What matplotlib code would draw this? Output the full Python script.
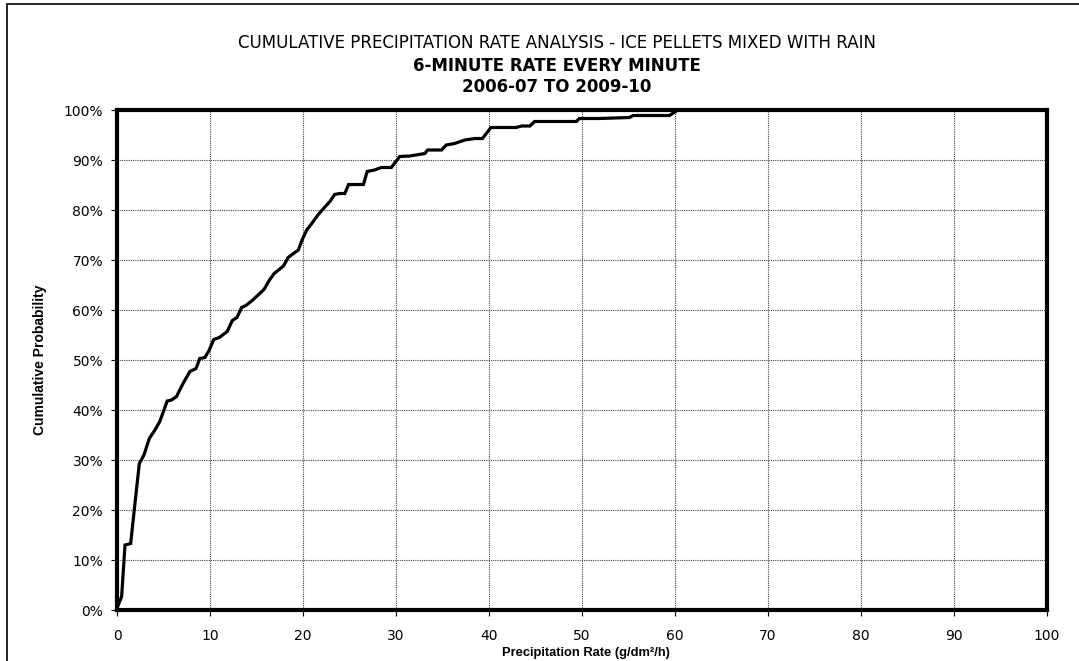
import matplotlib
matplotlib.use("Agg")
import matplotlib.pyplot as plt
from matplotlib.ticker import MultipleLocator, FuncFormatter
from matplotlib.patches import Rectangle

# ---- data ----
rate = [0, 0.5, 0.86, 1.47, 1.93, 2.4, 2.9, 3.47, 4.08, 4.6, 5.4, 5.87, 6.4, 7.1, 7.84,
        8.5, 8.9, 9.45, 9.9, 10.4, 11.0, 11.85, 12.4, 12.9, 13.4, 13.86, 14.6, 15.8, 16.4,
        16.9, 17.9, 18.4, 18.9, 19.5, 19.9, 20.4, 20.9, 21.6, 22.3, 22.9, 23.4, 23.95, 24.5,
        24.9, 26.5, 26.9, 27.7, 28.4, 29.5, 30.4, 31.5, 33.1, 33.4, 34.9, 35.4, 36.3, 37.4,
        38.5, 39.3, 40.2, 42.9, 43.5, 44.4, 44.9, 49.4, 49.7, 51.9, 55.1, 55.5, 59.4, 59.9,
        60.3]
prob = [0.4, 2.7, 13, 13.3, 21.3, 29.3, 31, 34.3, 36, 37.7, 41.8, 42, 42.7, 45.3, 47.7,
        48.3, 50.3, 50.5, 51.9, 54.1, 54.5, 55.7, 57.9, 58.5, 60.5, 60.9, 62, 64.1, 66,
        67.3, 68.8, 70.5, 71.2, 72, 74, 76, 77.2, 79, 80.5, 81.7, 83.1, 83.3, 83.3,
        85.1, 85.1, 87.7, 88, 88.5, 88.5, 90.7, 90.8, 91.3, 92, 92, 93, 93.3, 94,
        94.3, 94.3, 96.5, 96.5, 96.8, 96.8, 97.7, 97.7, 98.3, 98.3, 98.5, 98.9, 98.9, 99.5,
        100]

title_lines = ["CUMULATIVE PRECIPITATION RATE ANALYSIS - ICE PELLETS MIXED WITH RAIN",
               "6-MINUTE RATE EVERY MINUTE",
               "2006-07 TO 2009-10"]
xlabel = "Precipitation Rate (g/dm²/h)"
ylabel = "Cumulative Probability"

W, H = 1079, 661
fig = plt.figure(figsize=(W / 100, H / 100), dpi=100)
fig.patch.set_facecolor("white")

# outer chart border (left & top visible)
fig.patches.append(Rectangle((7 / W, -0.1), 1.2, 1 - 4 / H + 0.1, transform=fig.transFigure,
                             fill=False, edgecolor="black", linewidth=1.2))

ax = fig.add_axes([117 / W, 1 - 610 / H, (1047 - 117) / W, (610 - 110) / H])
ax.plot(rate, prob, color="black", linewidth=2.3, solid_joinstyle="miter", zorder=3)

ax.set_xlim(0, 100)
ax.set_ylim(0, 100)
ax.xaxis.set_major_locator(MultipleLocator(10))
ax.yaxis.set_major_locator(MultipleLocator(10))
ax.yaxis.set_major_formatter(FuncFormatter(lambda v, p: f"{int(round(v))}%"))
ax.grid(True, color="#444444", linestyle=(0, (1, 1)), linewidth=0.8)
ax.set_axisbelow(True)
for s in ax.spines.values():
    s.set_linewidth(3.0)
    s.set_color("black")
ax.tick_params(direction="out", length=4, width=0.8, color="black", labelsize=10)
ax.tick_params(axis="x", pad=10)
ax.tick_params(axis="y", pad=6)
for lab in ax.get_xticklabels() + ax.get_yticklabels():
    lab.set_family("DejaVu Sans")

narrow = ["Liberation Sans Narrow", "Liberation Sans", "DejaVu Sans"]
fig.text(586 / W, 1 - 653 / H, xlabel, ha="center", va="center",
         fontsize=9.3, fontweight="bold", family=["Liberation Sans", "DejaVu Sans"])
fig.text(40 / W, 1 - 360 / H, ylabel, ha="center", va="center", rotation=90,
         fontsize=10, fontweight="bold", family=narrow)

tf = ["DejaVu Sans"]
fig.text(557 / W, 1 - 43 / H, title_lines[0], ha="center", va="center",
         fontsize=12, family=tf)
fig.text(557 / W, 1 - 66 / H, title_lines[1], ha="center", va="center",
         fontsize=12, fontweight="bold", family=tf)
fig.text(557 / W, 1 - 86.5 / H, title_lines[2], ha="center", va="center",
         fontsize=12, fontweight="bold", family=tf)

fig.savefig("out.png", dpi=100, facecolor="white")
